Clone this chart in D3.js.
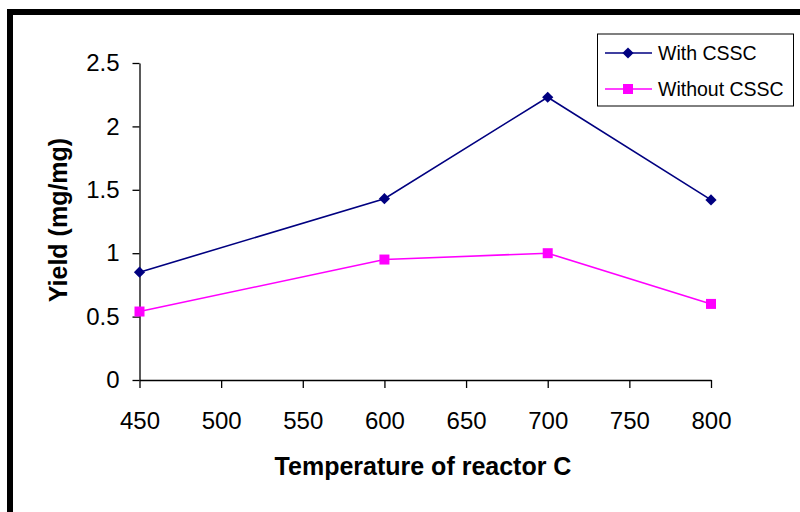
<!DOCTYPE html>
<html>
<head>
<meta charset="utf-8">
<script src="https://cdn.jsdelivr.net/npm/d3@7"></script>
<style>
  body { margin: 0; background: #fff; }
  svg { display: block; font-family: "Liberation Sans", Arial, sans-serif; }
</style>
</head>
<body>
<div id="chart"></div>
<script>
// data
var temps = [450, 600, 700, 800];
var withCSSC = [0.85, 1.43, 2.23, 1.42];
var withoutCSSC = [0.54, 0.95, 1.0, 0.6];
var xTicks = [450, 500, 550, 600, 650, 700, 750, 800];
var yTicks = [0, 0.5, 1, 1.5, 2, 2.5];
var seriesNames = ["With CSSC", "Without CSSC"];
var seriesColors = ["#000080", "#ff00ff"];

var width = 800, height = 512;
var margin = { top: 63, right: 89, bottom: 132, left: 139.5 };

var svg = d3.select("#chart").append("svg")
  .attr("width", width).attr("height", height);

// thick frame (only top and left visible in the reference)
svg.append("rect")
  .attr("x", 10).attr("y", 12)
  .attr("width", 820).attr("height", 520)
  .attr("fill", "none").attr("stroke", "#000").attr("stroke-width", 6);

var x = d3.scaleLinear().domain([450, 800]).range([margin.left, width - margin.right]);
var y = d3.scaleLinear().domain([0, 2.5]).range([height - margin.bottom, margin.top]);

var xAxis = svg.append("g")
  .attr("transform", "translate(0," + y(0) + ")")
  .call(d3.axisBottom(x).tickValues(xTicks).tickSize(8).tickSizeOuter(0).tickPadding(24));
var yAxis = svg.append("g")
  .attr("transform", "translate(" + x(450) + ",0)")
  .call(d3.axisLeft(y).tickValues(yTicks).tickSize(7).tickSizeOuter(0).tickPadding(13)
    .tickFormat(function (d) { return String(d); }));

[xAxis, yAxis].forEach(function (g) {
  g.selectAll("path").attr("stroke", "#000").attr("stroke-width", 1.3);
  g.selectAll("line").attr("stroke", "#000").attr("stroke-width", 1.3);
  g.selectAll("text").attr("font-size", "24px").attr("fill", "#000")
    .attr("font-family", "'Liberation Sans', Arial, sans-serif");
});

// axis titles
svg.append("text")
  .attr("x", 423).attr("y", 475)
  .attr("text-anchor", "middle").attr("font-weight", "bold").attr("font-size", "25px")
  .text("Temperature of reactor C");
svg.append("text")
  .attr("transform", "translate(67,220) rotate(-90)")
  .attr("text-anchor", "middle").attr("font-weight", "bold").attr("font-size", "25px")
  .text("Yield (mg/mg)");

var line = d3.line().x(function (d) { return x(d[0]); }).y(function (d) { return y(d[1]); });
var allSeries = [withCSSC, withoutCSSC];

function marker(i) {
  return i === 0 ? d3.symbol().type(d3.symbolDiamond2).size(80)
                 : d3.symbol().type(d3.symbolSquare).size(100);
}

allSeries.forEach(function (vals, i) {
  var pts = temps.map(function (t, j) { return [t, vals[j]]; });
  svg.append("path").datum(pts)
    .attr("d", line).attr("fill", "none")
    .attr("stroke", seriesColors[i]).attr("stroke-width", 1.6);
  svg.append("g").selectAll("path").data(pts).join("path")
    .attr("transform", function (d) { return "translate(" + x(d[0]) + "," + y(d[1]) + ")"; })
    .attr("d", marker(i)).attr("fill", seriesColors[i]);
});

// legend
var legend = svg.append("g");
legend.append("rect")
  .attr("x", 597.5).attr("y", 34).attr("width", 196).attr("height", 72)
  .attr("fill", "#fff").attr("stroke", "#000").attr("stroke-width", 1);
seriesNames.forEach(function (name, i) {
  var ly = 53 + i * 36;
  legend.append("line").attr("x1", 605).attr("x2", 652).attr("y1", ly).attr("y2", ly)
    .attr("stroke", seriesColors[i]).attr("stroke-width", 1.6);
  legend.append("path").attr("transform", "translate(628," + ly + ")")
    .attr("d", marker(i)).attr("fill", seriesColors[i]);
  legend.append("text").attr("x", 658).attr("y", ly + 7)
    .attr("font-size", "19.5px").text(name);
});
</script>
</body>
</html>
